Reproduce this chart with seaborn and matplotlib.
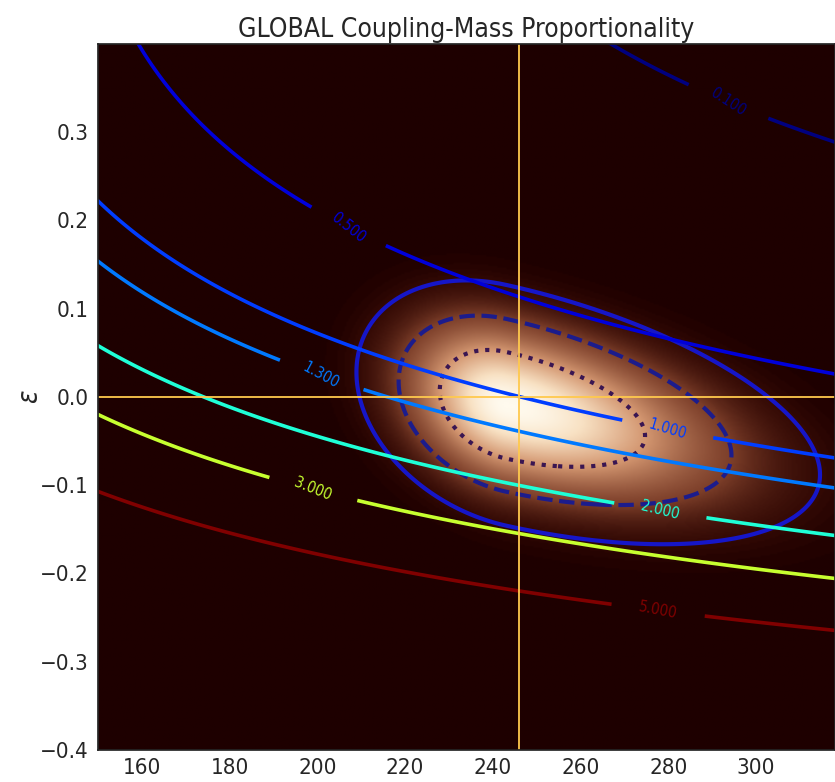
import numpy as np
import matplotlib
matplotlib.use("Agg")
import matplotlib.pyplot as plt
from matplotlib.colors import LinearSegmentedColormap, PowerNorm
import seaborn as sns

# --- axis ranges and ticks -------------------------------------------------
mass_range = (150.0, 318.0)
eps_range = (-0.4, 0.4)
mass_ticks = [160, 180, 200, 220, 240, 260, 280, 300]
eps_ticks = [-0.4, -0.3, -0.2, -0.1, 0.0, 0.1, 0.2, 0.3]

# SM reference point (vev, epsilon = 0)
ref_mass = 246.0
ref_eps = 0.0

# coupling-ratio surface:
# ln r = c0 + c1*L + c2*e + c3*e^2 + c4*L*e + c5*L*e^2,  L = ln(M/250)
ratio_coef = [-0.030, -1.997, -6.574, 3.5, -2.395, -1.0]
ratio_levels = [0.1, 0.5, 1.0, 1.3, 2.0, 3.0, 5.0]
label_spots = [(294, 0.336), (207.6, 0.195), (280, -0.035), (201, 0.025),
               (278, -0.131), (199, -0.105), (277.6, -0.243)]

# posterior shape (split in mass, tilted in epsilon)
post_mode = (243.0, -0.0095)
post_mass_width = (10.0, 21.0)   # below / above the mode
post_eps_width = 0.040
post_tilt = -0.0011
cred_levels = [0.997, 0.95, 0.68]
cred_styles = ["solid", "dashed", "dotted"]
cred_colors = ["#1616c8", "#1c1c8c", "#3a1652"]

# warm glow ramp for the posterior density
glow_stops = [0.0, 0.02, 0.14, 0.47, 0.8, 1.0]
glow_colors = ["#1e0000", "#330904", "#7c3e29", "#d39670", "#f8e1c3", "#fffaee"]

# --- style ------------------------------------------------------------------
sns.set_theme(style="white")
plt.rcParams["font.family"] = ["DejaVu Sans"]
plt.rcParams["font.stretch"] = "condensed"

glow = LinearSegmentedColormap.from_list("glow", list(zip(glow_stops, glow_colors)))

# --- grids --------------------------------------------------------------------
mass = np.linspace(130, 420, 700)
eps = np.linspace(-0.45, 0.45, 500)
M, E = np.meshgrid(mass, eps)

L = np.log(M / 250.0)
c0, c1, c2, c3, c4, c5 = ratio_coef
ratio = np.exp(c0 + c1 * L + c2 * E + c3 * E ** 2 + c4 * L * E + c5 * L * E ** 2)

dm = M - post_mode[0]
u = dm / np.where(dm < 0, post_mass_width[0], post_mass_width[1])
v = (E - post_mode[1] - post_tilt * dm) / post_eps_width
dens = np.exp(-0.5 * (u ** 2 + v ** 2))

# highest-density thresholds for the credible regions
flat = np.sort(dens.ravel())[::-1]
cum = np.cumsum(flat) / flat.sum()
thresholds = [flat[np.searchsorted(cum, p)] for p in cred_levels]

# --- figure -------------------------------------------------------------------
fig = plt.figure(figsize=(8.35, 7.82), dpi=100)
ax = fig.add_axes([0.1174, 0.041, 0.8826, 0.903])

ax.imshow(dens, extent=[mass[0], mass[-1], eps[0], eps[-1]], origin="lower",
          cmap=glow, aspect="auto", interpolation="bilinear",
          norm=PowerNorm(0.65, vmin=0, vmax=1))

for thr, ls, col in zip(thresholds, cred_styles, cred_colors):
    ax.contour(M, E, dens, levels=[thr], colors=[col], linestyles=[ls],
               linewidths=3.0)

cs = ax.contour(M, E, ratio, levels=ratio_levels, cmap="jet", linewidths=2.6)
ax.clabel(cs, fmt="%.3f", fontsize=11, manual=label_spots, inline=True,
          inline_spacing=8)

ax.axvline(ref_mass, color="#ffc94d", lw=1.3)
ax.axhline(ref_eps, color="#ffc94d", lw=1.3)

ax.set_xlim(*mass_range)
ax.set_ylim(*eps_range)
ax.set_xticks(mass_ticks)
ax.set_yticks(eps_ticks)
ax.set_yticklabels([f"{t:.1f}".replace("-", "\u2212") for t in eps_ticks])
ax.tick_params(length=0, labelsize=16)
ax.tick_params(axis="y", pad=7)
ax.tick_params(axis="x", pad=6)
ax.set_title("GLOBAL Coupling-Mass Proportionality", fontsize=19, pad=5)
ax.set_ylabel(r"$\epsilon$", fontsize=20, labelpad=-3)

fig.savefig("out.png", dpi=100)
